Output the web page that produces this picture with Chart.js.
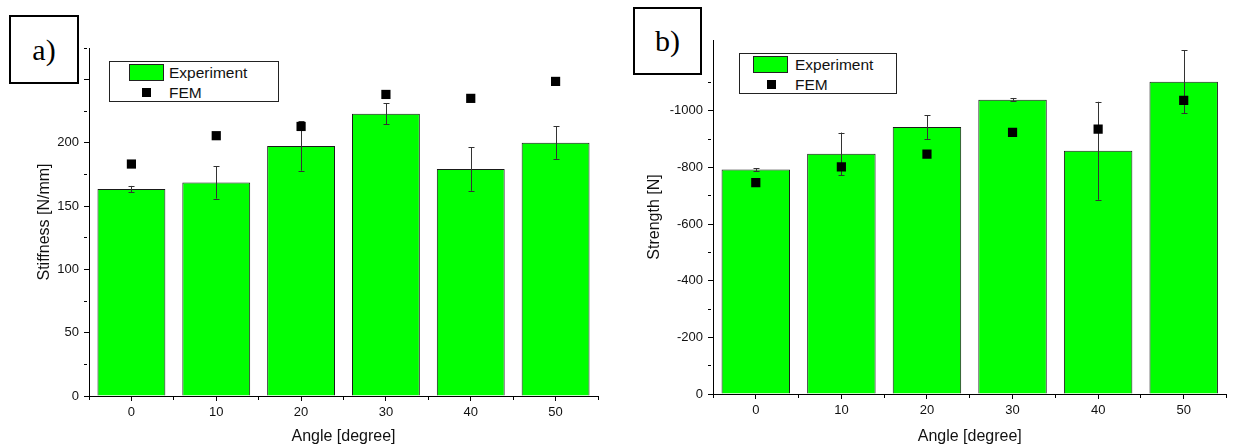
<!DOCTYPE html>
<html>
<head>
<meta charset="utf-8">
<script src="https://cdn.jsdelivr.net/npm/chart.js@4/dist/chart.umd.min.js"></script>
<style>
    body { margin: 0; background: #fff; width: 1233px; height: 448px; position: relative; overflow: hidden; font-family: "Liberation Sans", Arial, sans-serif; }
    .graf { position: absolute; top: 0; height: 448px; }
    #grafA { left: 0; width: 610px; }
    #grafB { left: 620px; width: 613px; }
    .etiqueta { position: absolute; border: 2px solid #000; box-sizing: border-box; background: #fff;
        font-family: "Liberation Serif", "Times New Roman", serif; font-size: 30px; display: flex; align-items: center; justify-content: center; }
    .leyenda { position: absolute; border: 1px solid #222; box-sizing: border-box; background: #fff; font-size: 15.5px; color: #111; }
    .leyenda .caja { position: absolute; width: 35px; height: 17px; background: #00ff00; border: 1px solid #222; box-sizing: border-box; }
    .leyenda .cuadro { position: absolute; width: 9px; height: 9px; background: #000; }
    .leyenda span { position: absolute; line-height: 17px; }
</style>
</head>
<body>
<div class="graf" id="grafA"><canvas id="rigidezChart"></canvas></div>
<div class="graf" id="grafB"><canvas id="resistenciaChart"></canvas></div>

<div class="etiqueta" style="left:9px; top:15px; width:70px; height:69px;">a)</div>
<div class="etiqueta" style="left:633px; top:7px; width:69px; height:68px;">b)</div>

<div class="leyenda" style="left:109px; top:61px; width:170px; height:41px;">
    <div class="caja" style="left:19px; top:2px;"></div><span style="left:59px; top:2px;">Experiment</span>
    <div class="cuadro" style="left:32px; top:26px;"></div><span style="left:59px; top:22px;">FEM</span>
</div>
<div class="leyenda" style="left:739px; top:53px; width:158px; height:41px;">
    <div class="caja" style="left:13px; top:2px;"></div><span style="left:55px; top:2px;">Experiment</span>
    <div class="cuadro" style="left:27px; top:26px;"></div><span style="left:55px; top:22px;">FEM</span>
</div>

<script>
// datos
const angulos = [0, 10, 20, 30, 40, 50];
const rigidezExp = [163.5, 168.8, 197.5, 223, 179.3, 200.2];
const rigidezErr = [2.5, 12.8, 19.5, 8.4, 17.2, 12.8];
const rigidezFem = [183.3, 205.7, 213, 238.3, 235.2, 248.6];
const resistExp = [-792.6, -848.2, -942.7, -1039.3, -858.8, -1103];
const resistErr = [5, 75, 42, 6, 173, 111];
const resistFem = [-746.6, -802, -847, -923.6, -935.6, -1036.8];
const ticksX = [0, 10, 20, 30, 40, 50];
const ticksRigidez = [0, 50, 100, 150, 200];
const ticksResist = [0, -200, -400, -600, -800, -1000];

// barras de error, se dibujan despues de las barras y antes de los puntos
const barrasError = {
    id: 'barrasError',
    afterDatasetDraw(chart, args, opciones) {
        if (args.index !== 0) return;
        const ctx = chart.ctx;
        const x = chart.scales.x;
        const y = chart.scales.y;
        ctx.save();
        ctx.strokeStyle = '#333';
        ctx.lineWidth = 1;
        opciones.valores.forEach((v, i) => {
            const px = Math.round(x.getPixelForValue(angulos[i])) + 0.5;
            const y1 = y.getPixelForValue(v + opciones.errores[i]);
            const y2 = y.getPixelForValue(v - opciones.errores[i]);
            ctx.beginPath();
            ctx.moveTo(px, y1); ctx.lineTo(px, y2);
            ctx.moveTo(px - 3, Math.round(y1) + 0.5); ctx.lineTo(px + 3, Math.round(y1) + 0.5);
            ctx.moveTo(px - 3, Math.round(y2) + 0.5); ctx.lineTo(px + 3, Math.round(y2) + 0.5);
            ctx.stroke();
        });
        ctx.restore();
    }
};

const fuente = { family: '"Liberation Sans", Arial, sans-serif' };

// ticks menores mas cortos (solo se pinta el trozo pegado al eje)
function tickMenor(paso) {
    return (c) => (c.tick && Math.abs(c.tick.value % paso) > 0.001) ? [3, 20] : [];
}

function crearGrafico(id, exp, err, fem, conf) {
    const ctx = document.getElementById(id).getContext('2d');
    return new Chart(ctx, {
        type: 'bar',
        data: {
            datasets: [
                {
                    label: 'Experiment',
                    data: angulos.map((a, i) => ({ x: a, y: exp[i] })),
                    backgroundColor: '#00ff00',
                    borderColor: '#1a1a1a',
                    borderWidth: 1,
                    // el ancho sale del paso de ticks (5), la barra ocupa 8
                    barPercentage: 1.6,
                    categoryPercentage: 1.0,
                    order: 2
                },
                {
                    type: 'scatter',
                    label: 'FEM',
                    data: angulos.map((a, i) => ({ x: a, y: fem[i] })),
                    backgroundColor: '#000',
                    borderColor: '#000',
                    borderWidth: 0,
                    pointStyle: 'rect',
                    pointRadius: 6.5,
                    order: 1
                }
            ]
        },
        options: {
            responsive: true,
            maintainAspectRatio: false,
            animation: false,
            layout: { padding: conf.padding },
            plugins: {
                legend: { display: false },
                tooltip: { enabled: false },
                barrasError: { valores: exp, errores: err }
            },
            scales: {
                x: {
                    type: 'linear',
                    min: -5,
                    max: 55,
                    offset: false,
                    afterFit: (scale) => { scale.height = conf.altoX; },
                    ticks: {
                        stepSize: 5,
                        autoSkip: false,
                        maxRotation: 0,
                        color: '#111',
                        padding: 4,
                        font: { ...fuente, size: 13 },
                        callback: (v) => ticksX.includes(v) ? String(v) : ''
                    },
                    grid: { offset: false, drawOnChartArea: false, drawTicks: true, tickLength: 5, color: '#000', tickColor: '#000', tickBorderDash: tickMenor(10) },
                    border: { display: true, color: '#000', width: 1 },
                    title: { display: true, text: 'Angle [degree]', color: '#111', padding: { top: 4, bottom: 2 }, font: { ...fuente, size: 16 } }
                },
                y: {
                    min: conf.min,
                    max: conf.max,
                    reverse: conf.reverse,
                    afterFit: (scale) => { scale.width = conf.anchoY; },
                    afterBuildTicks: (scale) => {
                        scale.ticks = scale.ticks.filter(t => t.value % conf.paso === 0);
                    },
                    ticks: {
                        stepSize: conf.paso,
                        autoSkip: false,
                        color: '#111',
                        padding: 5,
                        font: { ...fuente, size: 13 },
                        callback: (v) => conf.etiquetas.includes(v) ? String(v) : ''
                    },
                    grid: { drawOnChartArea: false, drawTicks: true, tickLength: 5, color: '#000', tickColor: '#000', tickBorderDash: tickMenor(conf.pasoMayor) },
                    border: { display: true, color: '#000', width: 1 },
                    title: { display: true, text: conf.titulo, color: '#111', padding: { top: 2, bottom: 4 }, font: { ...fuente, size: 16 } }
                }
            }
        },
        plugins: [barrasError]
    });
}

// grafico a) rigidez
crearGrafico('rigidezChart', rigidezExp, rigidezErr, rigidezFem, {
    padding: { left: 33, top: 48, right: 12, bottom: 0 },
    anchoY: 56,
    altoX: 52,
    min: 0,
    max: 275,
    paso: 25,
    pasoMayor: 50,
    reverse: false,
    etiquetas: ticksRigidez,
    titulo: 'Stiffness [N/mm]'
});

// grafico b) resistencia
crearGrafico('resistenciaChart', resistExp, resistErr, resistFem, {
    padding: { left: 23, top: 40, right: 1, bottom: 0 },
    anchoY: 70,
    altoX: 54,
    min: -1250,
    max: 0,
    paso: 100,
    pasoMayor: 200,
    reverse: true,
    etiquetas: ticksResist,
    titulo: 'Strength [N]'
});
</script>
</body>
</html>
